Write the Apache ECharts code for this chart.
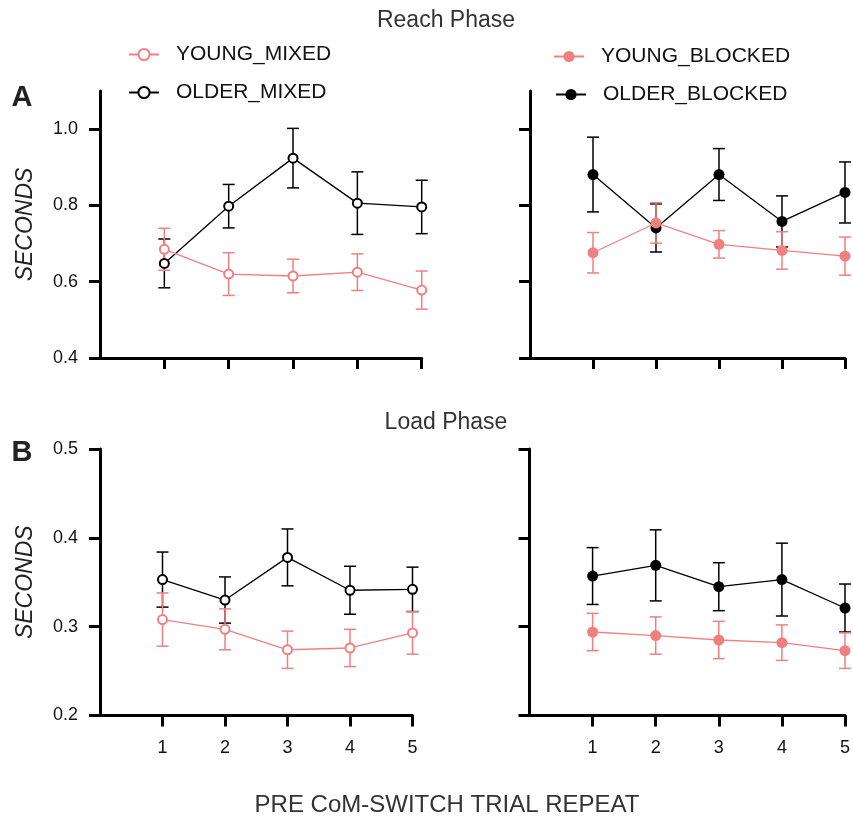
<!DOCTYPE html>
<html>
<head>
<meta charset="utf-8">
<script src="https://cdn.jsdelivr.net/npm/echarts@6/dist/echarts.min.js"></script>
<style>
	html, body { margin: 0; padding: 0; background: #fff; }
	#chart { width: 853px; height: 816px; }
</style>
</head>
<body>
<div id="chart"></div>
<script>
const trials = [1, 2, 3, 4, 5];

// Reach phase (A)
const reachYoungMixed = [0.685, 0.620, 0.615, 0.625, 0.578];
const reachYoungMixedErr = [0.055, 0.056, 0.044, 0.048, 0.050];
const reachOlderMixed = [0.648, 0.798, 0.924, 0.806, 0.796];
const reachOlderMixedErr = [0.064, 0.057, 0.078, 0.082, 0.070];
const reachYoungBlocked = [0.676, 0.754, 0.698, 0.682, 0.667];
const reachYoungBlockedErr = [0.053, 0.053, 0.036, 0.049, 0.050];
const reachOlderBlocked = [0.881, 0.741, 0.881, 0.758, 0.834];
const reachOlderBlockedErr = [0.098, 0.063, 0.068, 0.067, 0.080];

// Load phase (B)
const loadYoungMixed = [0.308, 0.297, 0.274, 0.276, 0.293];
const loadYoungMixedErr = [0.030, 0.023, 0.021, 0.021, 0.024];
const loadOlderMixed = [0.353, 0.330, 0.378, 0.341, 0.342];
const loadOlderMixedErr = [0.031, 0.026, 0.032, 0.027, 0.025];
const loadYoungBlocked = [0.294, 0.290, 0.285, 0.282, 0.273];
const loadYoungBlockedErr = [0.021, 0.021, 0.021, 0.020, 0.020];
const loadOlderBlocked = [0.357, 0.369, 0.345, 0.353, 0.321];
const loadOlderBlockedErr = [0.032, 0.040, 0.027, 0.041, 0.027];

const reachTicks = [0.4, 0.6, 0.8, 1.0];
const loadTicks = [0.2, 0.3, 0.4, 0.5];

const PINK = "#F08080";
const BLACK = "#000000";
const FONT = "'Liberation Sans', Arial, sans-serif";

const points = values => trials.map((t, i) => [t, values[i]]);
const bars = (values, errs) => trials.map((t, i) => [t, values[i] - errs[i], values[i] + errs[i]]);

const errorBar = color => (params, api) => {
	const x = api.value(0);
	const lo = api.coord([x, api.value(1)]);
	const hi = api.coord([x, api.value(2)]);
	const half = 6;
	const style = { stroke: color, lineWidth: 1.5 };
	return {
		type: "group",
		children: [
			{ type: "line", shape: { x1: lo[0], y1: lo[1], x2: hi[0], y2: hi[1] }, style },
			{ type: "line", shape: { x1: lo[0] - half, y1: lo[1], x2: lo[0] + half, y2: lo[1] }, style },
			{ type: "line", shape: { x1: hi[0] - half, y1: hi[1], x2: hi[0] + half, y2: hi[1] }, style }
		]
	};
};

const lineSeries = (name, values, color, filled, idx) => ({
	name,
	type: "line",
	xAxisIndex: idx,
	yAxisIndex: idx,
	data: points(values),
	symbol: filled ? "circle" : "emptyCircle",
	symbolSize: filled ? 11 : 9,
	clip: false,
	z: color === PINK ? 4 : 3,
	lineStyle: { color, width: 1.3 },
	itemStyle: { color, borderColor: color, borderWidth: filled ? 0 : 2.5 }
});

const errSeries = (name, values, errs, color, idx) => ({
	name,
	type: "custom",
	xAxisIndex: idx,
	yAxisIndex: idx,
	data: bars(values, errs),
	encode: { x: 0, y: [1, 2] },
	renderItem: errorBar(color),
	clip: false,
	z: color === PINK ? 2 : 1
});

const grids = [
	{ left: 100, top: 91, width: 321.7, height: 267 },
	{ left: 530, top: 91, width: 315, height: 267 },
	{ left: 100, top: 449, width: 312.5, height: 266.5 },
	{ left: 529.5, top: 449, width: 319.2, height: 266.5 }
];

const xAxes = grids.map((g, i) => ({
	type: "value",
	gridIndex: i,
	min: 0,
	max: 5,
	interval: 1,
	splitLine: { show: false },
	axisLine: { show: true, lineStyle: { color: BLACK, width: 3 } },
	axisTick: { show: true, length: 11, lineStyle: { color: BLACK, width: 3 }, customValues: trials },
	axisLabel: {
		show: i >= 2,
		customValues: trials,
		margin: 24,
		color: "#111",
		fontSize: 18,
		fontFamily: FONT
	}
}));

const yAxes = grids.map((g, i) => {
	const ticks = i < 2 ? reachTicks : loadTicks;
	return {
		type: "value",
		gridIndex: i,
		min: i < 2 ? 0.4 : 0.2,
		max: i < 2 ? 1.1 : 0.5,
		splitLine: { show: false },
		axisLine: { show: true, lineStyle: { color: BLACK, width: 3 } },
		axisTick: { show: true, length: 11, lineStyle: { color: BLACK, width: 3 }, customValues: ticks },
		axisLabel: {
			show: i % 2 === 0,
			customValues: ticks,
			margin: 22,
			formatter: v => v.toFixed(1),
			color: "#111",
			fontSize: 18,
			fontFamily: FONT
		},
		name: i % 2 === 0 ? "SECONDS" : "",
		nameLocation: "middle",
		nameRotate: 90,
		nameGap: 63,
		nameTextStyle: { fontSize: 23, fontStyle: "italic", color: "#222", fontFamily: FONT }
	};
});

const legendItem = (name, left, top) => ({
	data: [name],
	left,
	top,
	orient: "vertical",
	padding: 0,
	itemWidth: 30,
	itemHeight: 14,
	selectedMode: false,
	textStyle: { fontSize: 21, color: "#111", fontFamily: FONT, padding: [0, 0, 0, 12] }
});

const textLabel = (text, x, y, size, weight) => ({
	type: "text",
	x,
	y,
	style: {
		text,
		font: `${weight || "normal"} ${size}px ${FONT}`,
		fill: weight === "bold" ? "#222" : "#333",
		align: "center",
		verticalAlign: "middle"
	}
});

const chart = echarts.init(document.getElementById("chart"));
chart.setOption({
	animation: false,
	backgroundColor: "#fff",
	grid: grids,
	xAxis: xAxes,
	yAxis: yAxes,
	legend: [
		legendItem("YOUNG_MIXED", 128, 44),
		legendItem("OLDER_MIXED", 128, 82),
		legendItem("YOUNG_BLOCKED", 553, 46),
		legendItem("OLDER_BLOCKED", 555, 84)
	],
	graphic: [
		textLabel("Reach Phase", 446, 21, 23),
		textLabel("Load Phase", 446, 423, 23),
		textLabel("A", 22, 98, 29, "bold"),
		textLabel("B", 22, 453, 29, "bold"),
		textLabel("PRE CoM-SWITCH TRIAL REPEAT", 447, 805, 24)
	],
	series: [
		errSeries("err_om_r", reachOlderMixed, reachOlderMixedErr, BLACK, 0),
		errSeries("err_ym_r", reachYoungMixed, reachYoungMixedErr, PINK, 0),
		lineSeries("OLDER_MIXED", reachOlderMixed, BLACK, false, 0),
		lineSeries("YOUNG_MIXED", reachYoungMixed, PINK, false, 0),

		errSeries("err_ob_r", reachOlderBlocked, reachOlderBlockedErr, BLACK, 1),
		errSeries("err_yb_r", reachYoungBlocked, reachYoungBlockedErr, PINK, 1),
		lineSeries("OLDER_BLOCKED", reachOlderBlocked, BLACK, true, 1),
		lineSeries("YOUNG_BLOCKED", reachYoungBlocked, PINK, true, 1),

		errSeries("err_om_l", loadOlderMixed, loadOlderMixedErr, BLACK, 2),
		errSeries("err_ym_l", loadYoungMixed, loadYoungMixedErr, PINK, 2),
		lineSeries("OLDER_MIXED", loadOlderMixed, BLACK, false, 2),
		lineSeries("YOUNG_MIXED", loadYoungMixed, PINK, false, 2),

		errSeries("err_ob_l", loadOlderBlocked, loadOlderBlockedErr, BLACK, 3),
		errSeries("err_yb_l", loadYoungBlocked, loadYoungBlockedErr, PINK, 3),
		lineSeries("OLDER_BLOCKED", loadOlderBlocked, BLACK, true, 3),
		lineSeries("YOUNG_BLOCKED", loadYoungBlocked, PINK, true, 3)
	]
});
</script>
</body>
</html>
